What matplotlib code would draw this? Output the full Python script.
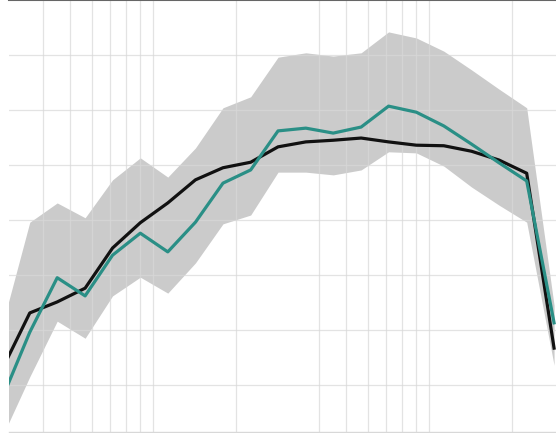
import matplotlib
matplotlib.use("Agg")
import matplotlib.pyplot as plt

# 1/3-octave band centres
freqs = [14.2, 17.9, 22.5, 28.4, 35.7, 45.0, 56.6, 71.3, 89.7, 113, 142,
         179, 225, 284, 357, 450, 566, 713, 897, 1130, 1420]

mean_level = [12.8, 23.1, 25.1, 27.6, 34.9, 39.5, 43.1, 47.3, 49.5, 50.5, 53.3,
              54.2, 54.5, 54.9, 54.2, 53.6, 53.5, 52.5, 50.9, 48.5, 16.7]
measured = [7.5, 19.6, 29.5, 26.2, 33.6, 37.6, 34.2, 39.6, 46.7, 49.1, 56.2,
            56.7, 55.8, 56.9, 60.7, 59.6, 57.1, 53.8, 50.4, 47.1, 21.3]
band_upper = [20.7, 39.6, 43.1, 40.4, 47.3, 51.3, 47.8, 53.1, 60.4, 62.4, 69.6,
              70.4, 69.8, 70.4, 74.2, 73.1, 70.7, 67.3, 63.8, 60.4, 24.5]
band_lower = [0.5, 11.5, 21.6, 18.5, 26.2, 29.6, 26.7, 32.2, 39.3, 40.9, 48.7,
              48.7, 48.2, 49.1, 52.4, 52.2, 49.8, 46.0, 42.7, 39.6, 13.6]

x_grid = [20, 25, 30, 35, 40, 45, 50, 100, 200, 250, 300, 350, 400, 450, 500, 1000]
y_grid = [10, 20, 30, 40, 50, 60, 70]

fig = plt.figure(figsize=(5.56, 4.33), dpi=100)
ax = fig.add_axes([9 / 556, 1 / 433, 547 / 556, 432 / 433])

ax.fill_between(freqs, band_lower, band_upper, color="#cbcbcb", lw=0, zorder=1)
ax.plot(freqs, mean_level, color="#111111", lw=2.3, zorder=3)
ax.plot(freqs, measured, color="#2a8f86", lw=2.3, zorder=4)

ax.set_xscale("log")
ax.set_xlim(15.05, 1443)
ax.set_ylim(1.45, 80)
ax.set_xticks(x_grid)
ax.set_xticks([], minor=True)
ax.set_yticks(y_grid)
ax.tick_params(length=0, labelbottom=False, labelleft=False)
# grid sits above the band but below the lines, as in the original
ax.grid(True, color="#d8d8d8", alpha=0.7, lw=0.9, zorder=2)

for side in ["left", "right"]:
    ax.spines[side].set_visible(False)
ax.spines["top"].set_color("#666666")
ax.spines["top"].set_linewidth(1.5)
ax.spines["bottom"].set_color("#d8d8d8")
ax.spines["bottom"].set_linewidth(1)

plt.savefig("out.png", dpi=100)
plt.close()
